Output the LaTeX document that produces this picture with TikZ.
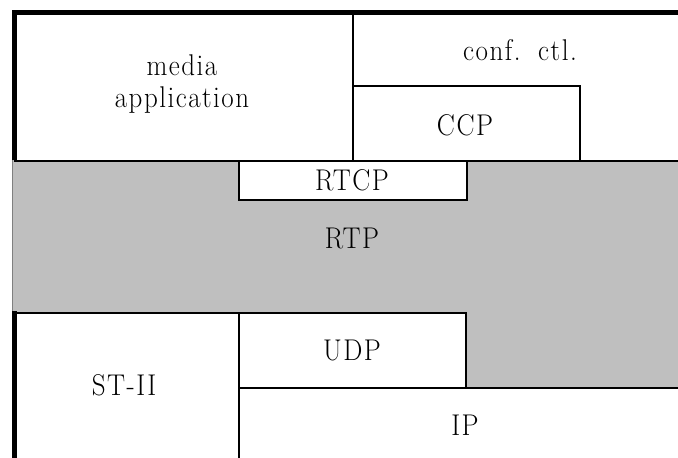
\documentclass[tikz,border=0pt]{standalone}
\usepackage{fontspec}
\setmainfont{Latin Modern Roman}[FakeStretch=0.9, LetterSpace=5, WordSpace=1.5]
\begin{document}
\begin{tikzpicture}[x=1pt,y=-1pt,
  thin line/.style={line width=2pt},
  thick line/.style={line width=5pt},
  box/.style={draw=black, thin line, fill=white, rectangle, inner sep=0pt, anchor=north west},
  lbl/.style={inner sep=0pt, font=\fontsize{30}{35}\selectfont, align=center}]
\useasboundingbox (0,0) rectangle (678,458);
% gray RTP area
\fill[fill={rgb,255:red,191;green,191;blue,191}] (12,160) -- (680,160) -- (680,387) -- (465,387) -- (465,312) -- (12,312) -- cycle;
\draw[line width=0.6pt, gray] (12,160) -- (12,312);
% upper boxes
\node[box, minimum width=338pt, minimum height=148pt] (media) at (14,12) {};
\node[box, minimum width=330pt, minimum height=148pt] (conf) at (352,12) {};
\node[box, minimum width=227pt, minimum height=75pt] (ccp) at (352,85) {};
\node[box, minimum width=228pt, minimum height=39pt] (rtcp) at (238,160) {};
% lower boxes
\node[box, minimum width=224pt, minimum height=150pt] (st) at (14,312) {};
\node[box, minimum width=227pt, minimum height=75pt] (udp) at (238,312) {};
\node[box, minimum width=444pt, minimum height=75pt] (ip) at (238,387) {};
% thick outer lines
\coordinate (tl) at (12,12.5);
\coordinate (tr) at (680,12.5);
\coordinate (lt) at (14.5,10);
\coordinate (lm) at (14.5,160);
\coordinate (lb1) at (14.5,311);
\coordinate (lb2) at (14.5,460);
\draw[thick line] (tl) -- (tr);
\draw[thick line] (lt) -- (lm);
\draw[thick line] (lb1) -- (lb2);
% labels
\node[lbl] (tmedia) at (182,84) {media\\[-3pt]application};
\node[lbl] (tconf) at (520,50) {conf. ctl.};
\node[lbl] (tccp) at (465,125) {CCP};
\node[lbl] (trtcp) at (352,180) {RTCP};
\node[lbl] (trtp) at (352,238) {RTP};
\node[lbl] (tudp) at (352,350) {UDP};
\node[lbl] (tst) at (124,385) {ST-II};
\node[lbl] (tip) at (465,425) {IP};
\end{tikzpicture}
\end{document}
